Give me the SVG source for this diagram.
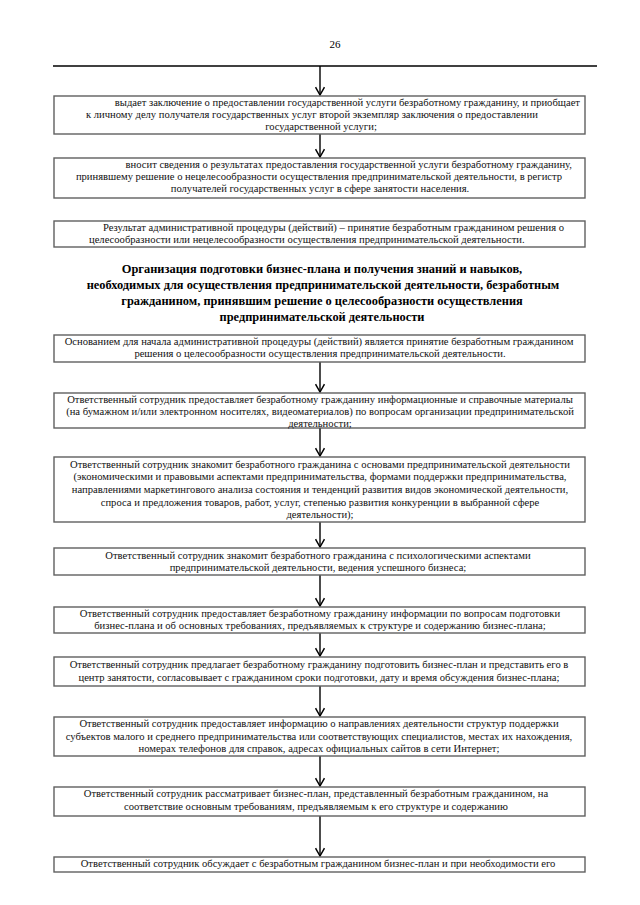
<svg xmlns="http://www.w3.org/2000/svg" width="640" height="905" viewBox="0 0 640 905">
<defs>
<marker id="ah" markerUnits="userSpaceOnUse" markerWidth="10" markerHeight="10" refX="4.5" refY="8" orient="0" viewBox="0 0 9 9">
<path d="M0.5,1 L4.5,8 L8.5,1" fill="none" stroke="#000" stroke-width="1.3"/>
</marker>
<style>
.b{fill:#fff;stroke:#606060;stroke-width:1.4}
.t{font-family:"Liberation Serif","Times New Roman",serif;font-size:10.6px;fill:#111;text-anchor:middle}
.s{text-anchor:start}
.e{text-anchor:end}
.h{font-family:"Liberation Serif","Times New Roman",serif;font-size:12.4px;font-weight:bold;fill:#000;text-anchor:middle}
.c{stroke:#000;stroke-width:1.4;fill:none}
</style>
</defs>
<rect width="640" height="905" fill="#fff"/>
<text x="335" y="48" style="font-family:'Liberation Serif',serif;font-size:11px;text-anchor:middle">26</text>
<g id="connectors">
<line class="c" x1="53" y1="66" x2="597" y2="66"/>
<line class="c" x1="320" y1="66" x2="320" y2="95" marker-end="url(#ah)"/>
<line class="c" x1="320" y1="134" x2="320" y2="157" marker-end="url(#ah)"/>
<line class="c" x1="320" y1="362" x2="320" y2="392" marker-end="url(#ah)"/>
<line class="c" x1="320" y1="428" x2="320" y2="456" marker-end="url(#ah)"/>
<line class="c" x1="320" y1="522" x2="320" y2="547" marker-end="url(#ah)"/>
<line class="c" x1="320" y1="575" x2="320" y2="606" marker-end="url(#ah)"/>
<line class="c" x1="320" y1="633" x2="320" y2="656" marker-end="url(#ah)"/>
<line class="c" x1="320" y1="686" x2="320" y2="716" marker-end="url(#ah)"/>
<line class="c" x1="320" y1="756" x2="320" y2="786" marker-end="url(#ah)"/>
<line class="c" x1="320" y1="816" x2="320" y2="856" marker-end="url(#ah)"/>
</g>
<g id="n1">
<rect class="b" x="54" y="96" width="531" height="38"/>
<text class="t e" x="580" y="106">выдает заключение о предоставлении государственной услуги безработному гражданину, и приобщает</text>
<text class="t s" x="86" y="118">к личному делу получателя государственных услуг второй экземпляр заключения о предоставлении</text>
<text class="t" x="321" y="130">государственной услуги;</text>
</g>
<g id="n2">
<rect class="b" x="54" y="158" width="531" height="40"/>
<text class="t e" x="572" y="168">вносит сведения о результатах предоставления государственной услуги безработному гражданину,</text>
<text class="t" x="319" y="180">принявшему решение о нецелесообразности осуществления предпринимательской деятельности, в регистр</text>
<text class="t" x="320" y="192">получателей государственных услуг в сфере занятости населения.</text>
</g>
<g id="n3">
<rect class="b" x="54" y="221" width="531" height="26"/>
<text class="t s" x="103" y="231">Результат административной процедуры (действий) – принятие безработным гражданином решения о</text>
<text class="t s" x="89" y="243">целесообразности или нецелесообразности осуществления предпринимательской деятельности.</text>
</g>
<g id="title">
<text class="h" x="322" y="273">Организация подготовки бизнес-плана и получения знаний и навыков,</text>
<text class="h" x="323" y="289">необходимых для осуществления предпринимательской деятельности, безработным</text>
<text class="h" x="322" y="305">гражданином, принявшим решение о целесообразности осуществления</text>
<text class="h" x="322" y="321">предпринимательской деятельности</text>
</g>
<g id="n4">
<rect class="b" x="54" y="335" width="531" height="27"/>
<text class="t" x="319" y="345">Основанием для начала административной процедуры (действий) является принятие безработным гражданином</text>
<text class="t" x="320" y="357">решения о целесообразности осуществления предпринимательской деятельности.</text>
</g>
<g id="n5">
<rect class="b" x="54" y="393" width="531" height="35"/>
<text class="t" x="320" y="403">Ответственный сотрудник предоставляет безработному гражданину информационные и справочные материалы</text>
<text class="t" x="320" y="415">(на бумажном и/или электронном носителях, видеоматериалов) по вопросам организации предпринимательской</text>
<text class="t" x="320" y="427">деятельности;</text>
</g>
<g id="n6">
<rect class="b" x="54" y="457" width="531" height="65"/>
<text class="t" x="320" y="468">Ответственный сотрудник знакомит безработного гражданина с основами предпринимательской деятельности</text>
<text class="t" x="320" y="480">(экономическими и правовыми аспектами предпринимательства, формами поддержки предпринимательства,</text>
<text class="t" x="320" y="493">направлениями маркетингового анализа состояния и тенденций развития видов экономической деятельности,</text>
<text class="t" x="320" y="506">спроса и предложения товаров, работ, услуг, степенью развития конкуренции в выбранной сфере</text>
<text class="t" x="320" y="518">деятельности);</text>
</g>
<g id="n7">
<rect class="b" x="54" y="548" width="531" height="27"/>
<text class="t" x="318" y="559">Ответственный сотрудник знакомит безработного гражданина с психологическими аспектами</text>
<text class="t" x="318" y="571">предпринимательской деятельности, ведения успешного бизнеса;</text>
</g>
<g id="n8">
<rect class="b" x="54" y="607" width="531" height="26"/>
<text class="t" x="320" y="617">Ответственный сотрудник предоставляет безработному гражданину информации по вопросам подготовки</text>
<text class="t" x="320" y="629">бизнес-плана и об основных требованиях, предъявляемых к структуре и содержанию бизнес-плана;</text>
</g>
<g id="n9">
<rect class="b" x="54" y="657" width="531" height="29"/>
<text class="t" x="319" y="668">Ответственный сотрудник предлагает безработному гражданину подготовить бизнес-план и представить его в</text>
<text class="t" x="319" y="681">центр занятости, согласовывает с гражданином сроки подготовки, дату и время обсуждения бизнес-плана;</text>
</g>
<g id="n10">
<rect class="b" x="54" y="717" width="531" height="39"/>
<text class="t" x="319" y="727">Ответственный сотрудник предоставляет информацию о направлениях деятельности структур поддержки</text>
<text class="t" x="319" y="740">субъектов малого и среднего предпринимательства или соответствующих специалистов, местах их нахождения,</text>
<text class="t" x="319" y="752">номерах телефонов для справок, адресах официальных сайтов в сети Интернет;</text>
</g>
<g id="n11">
<rect class="b" x="54" y="787" width="531" height="29"/>
<text class="t" x="316" y="797">Ответственный сотрудник рассматривает бизнес-план, представленный безработным гражданином, на</text>
<text class="t" x="316" y="810">соответствие основным требованиям, предъявляемым к его структуре и содержанию</text>
</g>
<g id="n12">
<rect class="b" x="54" y="857" width="531" height="15"/>
<text class="t" x="318" y="867">Ответственный сотрудник обсуждает с безработным гражданином бизнес-план и при необходимости его</text>
</g>
</svg>
